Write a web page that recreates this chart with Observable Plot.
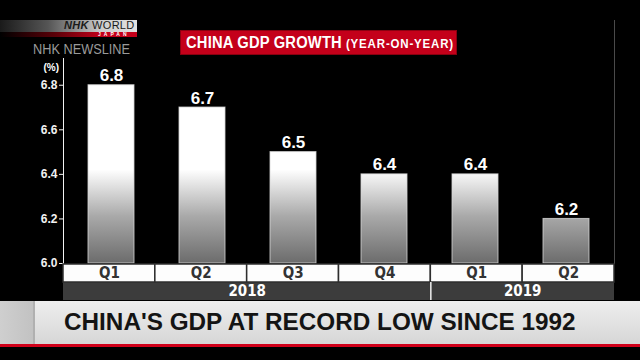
<!DOCTYPE html>
<html><head><meta charset="utf-8">
<script src="https://cdn.jsdelivr.net/npm/d3@7"></script>
<script src="https://cdn.jsdelivr.net/npm/@observablehq/plot@0.6"></script>
<style>
html,body{margin:0;padding:0;background:#000;}
#wrap{position:relative;width:640px;height:360px;overflow:hidden;background:#000;font-family:"Liberation Sans",Arial,sans-serif;}
.abs{position:absolute;}
#wrap svg{position:absolute;left:0;overflow:visible;}
</style></head><body>
<div id="wrap">
  <div class="abs" style="left:0;top:20px;width:137px;height:12px;background:linear-gradient(90deg,#1a1a1a 0%,#555 35%,#cfcfcf 75%,#e2e2e2 100%);"></div>
  <div class="abs" id="nhkw" style="left:64px;top:19px;width:70px;height:13px;font-size:11px;line-height:13px;color:#1a1a1a;white-space:nowrap;letter-spacing:0.3px;"><b><i>NHK</i></b> WORLD</div>
  <div class="abs" style="left:0;top:32px;width:137px;height:5px;background:linear-gradient(90deg,#000 0%,#5a0008 40%,#c4001a 75%,#c4001a 100%);"></div>
  <div class="abs" id="japan" style="left:98px;top:31px;width:36px;height:6px;font-size:5px;line-height:7px;color:#fff;letter-spacing:3px;font-weight:bold;">JAPAN</div>
  <div class="abs" id="newsline" style="left:33px;top:40px;font-size:15px;line-height:17px;color:#9a9a9a;white-space:nowrap;transform:scaleX(0.85);transform-origin:0 0;"></div>
  <div class="abs" style="left:180px;top:30px;width:277px;height:25px;background:#c4001a;border:1px solid #8a0010;box-sizing:border-box;"></div>
  <div class="abs" id="title" style="left:186px;top:31px;height:24px;line-height:24px;color:#fff;font-weight:bold;white-space:nowrap;transform:scaleX(0.92);transform-origin:0 0;"></div>
  <div class="abs" id="unit" style="left:40px;top:62px;width:19px;text-align:right;font-size:10px;line-height:12px;color:#fff;font-weight:bold;"></div>
  <div class="abs" id="rborder" style="width:1px;background:#4a4a4a;top:20px;"></div>
  <div class="abs" style="left:0;top:301px;width:640px;height:43px;background:linear-gradient(180deg,#eeeeee,#e0e0e0 60%,#d6d6d6);"></div>
  <div class="abs" style="left:0;top:301px;width:33px;height:43px;background:linear-gradient(90deg,#cfcfcf,#c2c2c2);border-right:2px solid #b0b0b0;"></div>
  <div class="abs" style="left:0;top:344px;width:640px;height:3px;background:#d0001a;"></div>
  <div class="abs" id="headline" style="left:64px;top:309px;font-size:24.3px;line-height:26px;font-weight:bold;color:#141414;white-space:nowrap;"></div>
</div>
<script>
const years = ["2018", "2018", "2018", "2018", "2019", "2019"];
const quarters = ["Q1", "Q2", "Q3", "Q4", "Q1", "Q2"];
const growth = [6.8, 6.7, 6.5, 6.4, 6.4, 6.2];
const yTicks = [6.0, 6.2, 6.4, 6.6, 6.8];
const yMax = 6.92;
const titleText = "CHINA GDP GROWTH";
const subtitleText = "(YEAR-ON-YEAR)";
const unitText = "(%)";
const sourceText = "NHK NEWSLINE";
const headlineText = "CHINA'S GDP AT RECORD LOW SINCE 1992";

document.getElementById("title").innerHTML =
  `<span style="font-size:16px;letter-spacing:0.2px;">${titleText}</span> <span style="font-size:12.5px;letter-spacing:0.9px;">${subtitleText}</span>`;
document.getElementById("unit").textContent = unitText;
document.getElementById("newsline").textContent = sourceText;
document.getElementById("headline").textContent = headlineText;

const data = growth.map((v, i) => ({key: `${years[i]} ${quarters[i]}`, year: years[i], quarter: quarters[i], value: v, i}));
const base = yTicks[0];
const ML = 63, MR = 26;
const wrap = document.getElementById("wrap");

const chart = Plot.plot({
  width: 640, height: 265,
  marginTop: 58, marginBottom: 2, marginLeft: ML, marginRight: MR,
  style: {background: "transparent", color: "#f2f2f2", fontFamily: "Liberation Sans, Arial, sans-serif", fontSize: "12px", fontWeight: "bold"},
  x: {domain: data.map(d => d.key), paddingInner: 0.5, paddingOuter: 0.25, axis: null},
  y: {domain: [base, yMax], ticks: yTicks, tickFormat: d3.format(".1f"), tickSize: 4, tickPadding: 2, line: true, label: null},
  marks: [
    Plot.barY(data, {x: "key", y1: () => base, y2: "value", fill: "url(#barGrad)", stroke: "#d6d6d6", strokeWidth: 1, strokeOpacity: 0.8}),
    Plot.text(data, {x: "key", y: "value", text: d => d.value.toFixed(1), dy: -4, lineAnchor: "bottom", fill: "#fff", fontSize: 17, fontWeight: "bold"})
  ]
});
chart.style.top = "0px";
const ys = chart.scale("y");
const ns = "http://www.w3.org/2000/svg";
const defs = document.createElementNS(ns, "defs");
defs.innerHTML = `<linearGradient id="barGrad" gradientUnits="userSpaceOnUse" x1="0" x2="0" y1="${ys.apply(6.42)}" y2="${ys.apply(base)}">
  <stop offset="0" stop-color="#ffffff"/><stop offset="0.5" stop-color="#a9a9a9"/><stop offset="1" stop-color="#6c6c6c"/></linearGradient>`;
chart.prepend(defs);
wrap.appendChild(chart);

const rb = document.getElementById("rborder");
rb.style.left = (640 - MR) + "px";
rb.style.height = (ys.apply(base) - 20 + 1) + "px";

// category rows
const yearSpans = d3.groups(data, d => d.year).map(([year, arr]) => ({year, x1: arr[0].i, x2: arr[arr.length - 1].i + 1}));
const rows = Plot.plot({
  width: 640, height: 38,
  marginTop: 1, marginBottom: 1, marginLeft: ML, marginRight: MR,
  style: {background: "transparent", fontFamily: "Liberation Sans Narrow, DejaVu Sans Condensed, sans-serif"},
  x: {domain: [0, data.length], axis: null},
  y: {domain: [0, 2], axis: null},
  marks: [
    Plot.rect(yearSpans, {x1: "x1", x2: "x2", y1: () => 0, y2: () => 1, fill: "#3c3c3c"}),
    Plot.rect(data, {x1: "i", x2: d => d.i + 1, y1: () => 1, y2: () => 2, fill: "#fdfdfd", stroke: "#2e2e2e", strokeWidth: 1.5}),
    Plot.ruleX(yearSpans.slice(1), {x: "x1", y1: () => 0, y2: () => 1, stroke: "#f0f0f0", strokeWidth: 1.5}),
    Plot.text(data, {x: d => d.i + 0.5, y: () => 1.5, text: "quarter", fill: "#333", fontSize: 15, fontWeight: "bold"}),
    Plot.text(yearSpans, {x: d => (d.x1 + d.x2) / 2, y: () => 0.5, text: "year", fill: "#fff", fontSize: 15, fontWeight: "bold"})
  ]
});
rows.style.top = "263px";
wrap.appendChild(rows);
</script>
</body></html>
